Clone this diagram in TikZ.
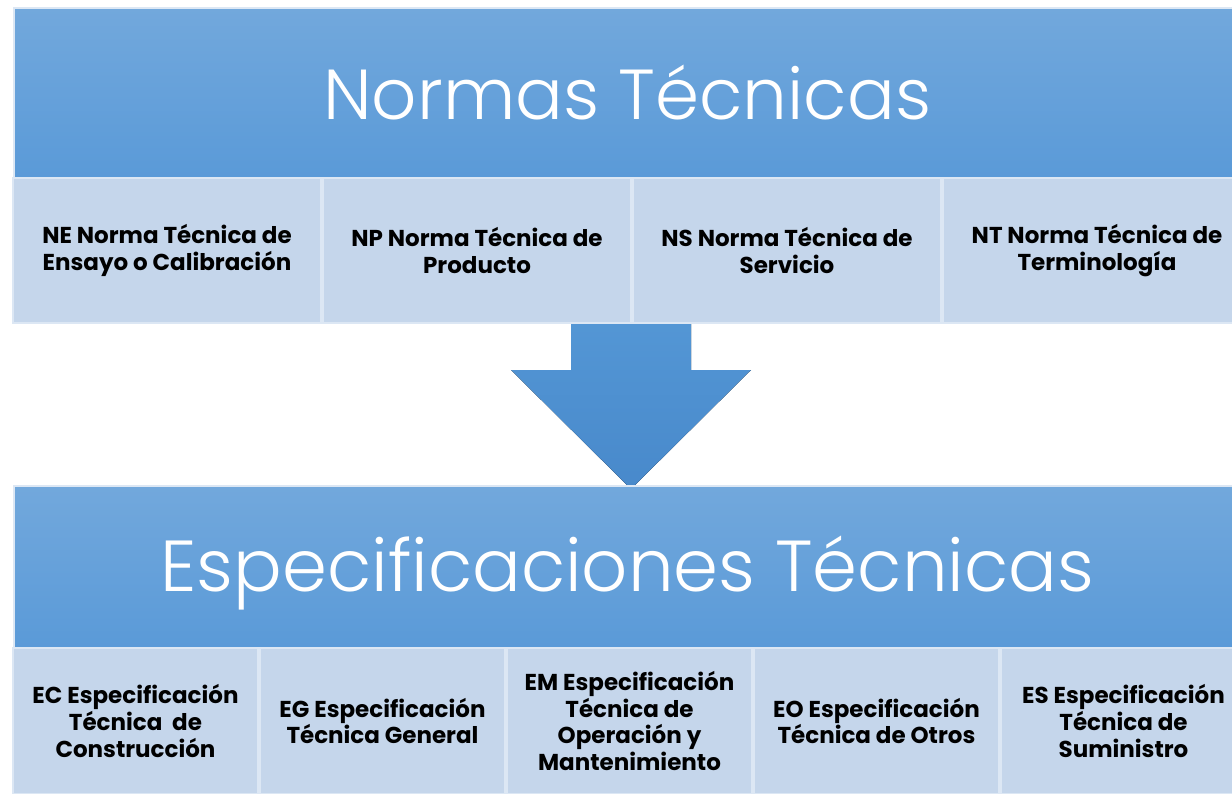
\documentclass[tikz,border=0pt]{standalone}
\usepackage{fontspec}
\setmainfont{Poppins}
\newfontfamily\titlefont{Poppins}[UprightFont=* Light]
\usetikzlibrary{positioning}

\definecolor{bannertop}{HTML}{72A8DC}
\definecolor{bannerbot}{HTML}{5A9AD8}
\definecolor{boxfill}{HTML}{C5D6EB}
\definecolor{boxedge}{HTML}{DCE7F4}
\definecolor{arrowtop}{HTML}{5598D6}
\definecolor{arrowbot}{HTML}{4889CB}

\tikzset{
  banner/.style={anchor=north west, inner sep=0pt, minimum width=613.5pt,
    top color=bannertop, bottom color=bannerbot, draw=boxedge, line width=0.8pt,
    text=white},
  normbox/.style={anchor=north west, inner sep=2pt, minimum width=154pt,
    minimum height=72.5pt, fill=boxfill, draw=boxedge, line width=1pt,
    align=center, font=\bfseries\fontsize{11.5}{13.3}\selectfont},
  specbox/.style={normbox, minimum width=122.5pt, minimum height=73pt},
}

\begin{document}
\begin{tikzpicture}[x=0.5pt,y=-0.5pt]
  \useasboundingbox (0,0) rectangle (1232,793);
  % arrow between the two groups
  \fill[top color=arrowtop, bottom color=arrowbot]
    (571,300) -- (691,300) -- (691,370) -- (751,370) -- (631,489)
    -- (511,370) -- (571,370) -- cycle;

  % top group
  \node[banner, minimum height=85pt, font=\titlefont\fontsize{35.4}{40}\selectfont] (normas) at (13,7) {Normas Técnicas};
  \node[normbox] (ne) at (12,177) {NE Norma Técnica de\\Ensayo o Calibración};
  \node[normbox, right=0pt of ne.north east, anchor=north west] (np) {NP Norma Técnica de\\Producto};
  \node[normbox, right=0pt of np.north east, anchor=north west] (ns) {NS Norma Técnica de\\Servicio};
  \node[normbox, right=0pt of ns.north east, anchor=north west] (nt) {NT Norma Técnica de\\Terminología};

  % bottom group
  \node[banner, minimum height=81pt,
    label={[text=white, yshift=-3pt, font=\titlefont\fontsize{36.1}{42}\selectfont]center:Especificaciones Técnicas}] (espec) at (13,485) {};
  \node[specbox] (ec) at (12,647) {EC Especificación\\Técnica\ \ de\\Construcción};
  \node[specbox, right=0pt of ec.north east, anchor=north west] (eg) {EG Especificación\\Técnica General};
  \node[specbox, right=0pt of eg.north east, anchor=north west] (em) {EM Especificación\\Técnica de\\Operación y\\Mantenimiento};
  \node[specbox, right=0pt of em.north east, anchor=north west] (eo) {EO Especificación\\Técnica de Otros};
  \node[specbox, right=0pt of eo.north east, anchor=north west] (es) {ES Especificación\\Técnica de\\Suministro};
\end{tikzpicture}
\end{document}
